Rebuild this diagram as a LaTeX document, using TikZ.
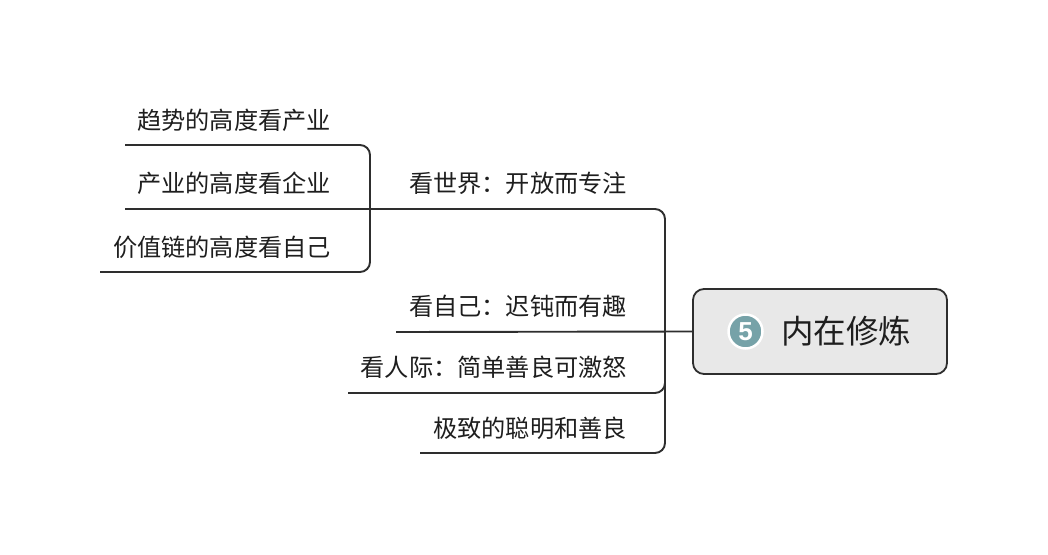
\documentclass[tikz,border=0pt]{standalone}
\usepackage{fontspec}
\newfontfamily\cjk{Noto Sans CJK SC}
\newfontfamily\lsans{Liberation Sans}
\definecolor{linec}{HTML}{2E2E2E}
\definecolor{txtc}{HTML}{1E1E1E}
\definecolor{rootfill}{HTML}{E8E8E8}
\definecolor{badgec}{HTML}{76A2A8}
\begin{document}
\begin{tikzpicture}[x=1pt,y=1pt,
  conn/.style={draw=linec,line width=1.9pt,rounded corners=10pt},
  leaf/.style={anchor=east,inner sep=0pt,text=txtc,font=\cjk\fontsize{24.2}{29}\selectfont},
  rootbox/.style={draw=linec,line width=1.8pt,fill=rootfill,rounded corners=11pt,minimum width=254pt,minimum height=85pt,inner sep=0pt},
  badge/.style={circle,fill=badgec,draw=white,line width=2.5pt,minimum size=34pt,inner sep=0pt,text=white,font=\lsans\bfseries\fontsize{26}{30}\selectfont}
]
\useasboundingbox (0,0) rectangle (1048,-554);
% root
\node[rootbox] (R) at (820,-331.5) {};
\node[badge] (B) at (745.5,-331.5) {5};
\node[anchor=west,inner sep=0pt,text=txtc,font=\cjk\fontsize{32.5}{37}\selectfont] (RT) at (781,-331) {内在修炼};
% junctions and ends
\coordinate (J) at (665,-332);
\coordinate (b1e) at (370,-209);
\coordinate (b2e) at (396,-332);
\coordinate (b3e) at (348,-393);
\coordinate (b4e) at (420,-453);
\coordinate (c1e) at (125,-145);
\coordinate (c2e) at (125,-209);
\coordinate (c3e) at (100,-272);
% labels
\node[leaf] (t1) at (627,-183) {看世界：开放而专注};
\node[leaf] (t2) at (627,-306) {看自己：迟钝而有趣};
\node[leaf] (t3) at (627,-367) {看人际：简单善良可激怒};
\node[leaf] (t4) at (627,-428) {极致的聪明和善良};
\node[leaf] (s1) at (331,-120) {趋势的高度看产业};
\node[leaf] (s2) at (331,-183) {产业的高度看企业};
\node[leaf] (s3) at (331,-247) {价值链的高度看自己};
% connectors
\draw[conn] (R.west) -- (b2e);
\draw[conn] (J) |- (b1e);
\draw[conn] (J) |- (b3e);
\draw[conn] (J) |- (b4e);
\draw[conn] (b1e) |- (c1e);
\draw[conn] (b1e) -- (c2e);
\draw[conn] (b1e) |- (c3e);
\end{tikzpicture}
\end{document}
